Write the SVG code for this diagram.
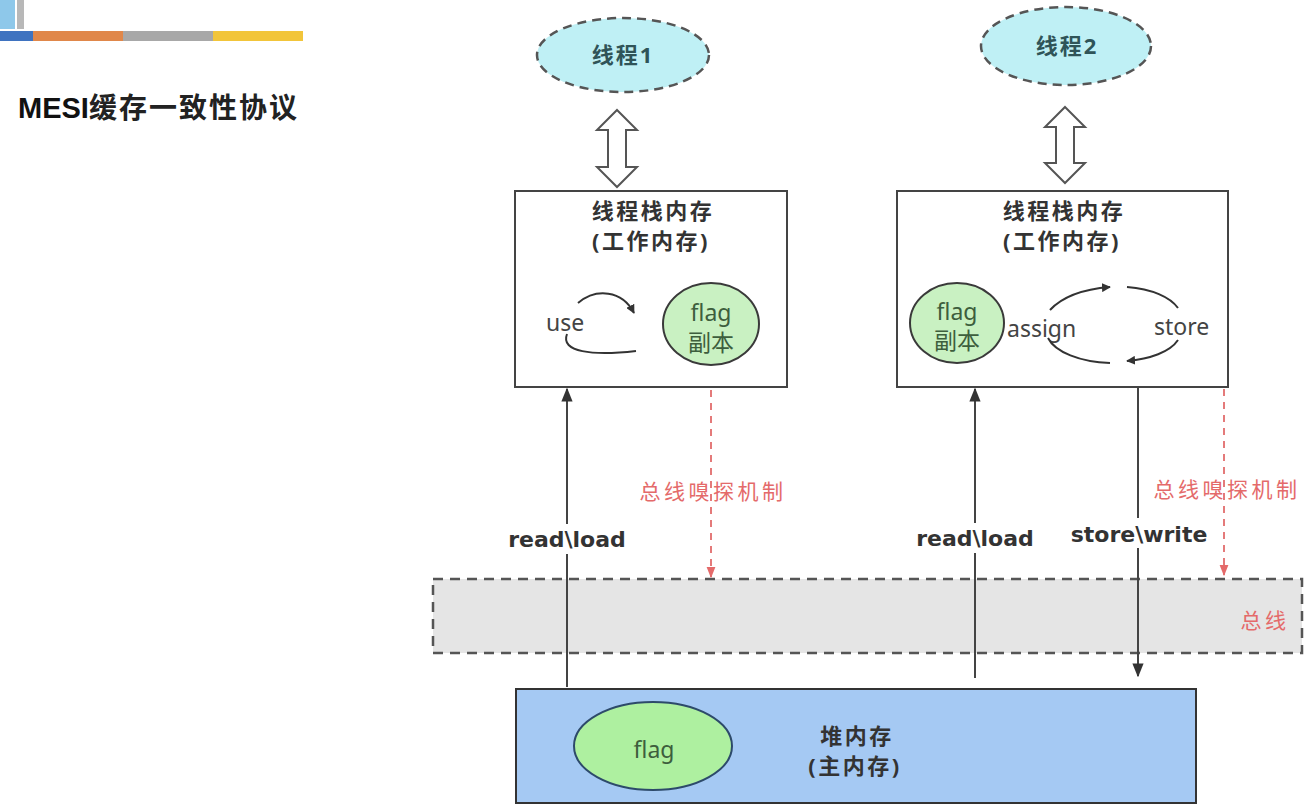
<svg xmlns="http://www.w3.org/2000/svg" width="1314" height="812" viewBox="0 0 1314 812">
<defs>
<style>
.cjk{font-family:"Noto Sans","Noto Sans CJK SC",sans-serif}
.hd{font-family:"Noto Sans","Noto Sans CJK SC",sans-serif;font-weight:bold;font-size:22px;letter-spacing:2.5px;fill:#333;text-anchor:middle}
.lbl{font-family:"DejaVu Sans","Noto Sans CJK SC",sans-serif;font-weight:bold;font-size:22px;fill:#333;text-anchor:middle}
.op{font-family:"Noto Sans","Noto Sans CJK SC",sans-serif;font-size:23px;fill:#444}
.flag{font-family:"Noto Sans","Noto Sans CJK SC",sans-serif;font-size:23px;fill:#3d5e3d;text-anchor:middle}
.red{font-family:"Noto Sans","Noto Sans CJK SC",sans-serif;font-size:21px;letter-spacing:3.5px;fill:#e46a6a;text-anchor:middle}
.box{fill:#fff;stroke:#444;stroke-width:2}
.thread{fill:#bff0f5;stroke:#555;stroke-width:2.5;stroke-dasharray:9 6}
.copy{fill:#c9f1c2;stroke:#3a3a3a;stroke-width:2}
.dbl{fill:#fff;stroke:#555;stroke-width:2}
.conn{stroke:#444;stroke-width:2;fill:none}
.snoop{stroke:#e47a7a;stroke-width:2;stroke-dasharray:7 6;fill:none}
.cyc{stroke:#333;stroke-width:2;fill:none}
</style>
<marker id="ah" viewBox="0 0 10 10" refX="9" refY="5" markerWidth="9" markerHeight="9" markerUnits="userSpaceOnUse" orient="auto">
<path d="M0,0 L10,5 L0,10 Z" fill="#333"/>
</marker>
<marker id="ahBig" viewBox="0 0 10 10" refX="9" refY="5" markerWidth="14" markerHeight="14" markerUnits="userSpaceOnUse" orient="auto">
<path d="M0,1 L10,5 L0,9 Z" fill="#333"/>
</marker>
<marker id="ahRed" viewBox="0 0 10 10" refX="9" refY="5" markerWidth="11" markerHeight="11" markerUnits="userSpaceOnUse" orient="auto">
<path d="M0,1 L10,5 L0,9 Z" fill="#e46a6a"/>
</marker>
</defs>
<rect width="1314" height="812" fill="#fff"/>

<g id="header">
<rect x="0" y="0" width="15" height="29" fill="#8ec8ea"/>
<rect x="17" y="0" width="7" height="29" fill="#b8b8b8"/>
<rect x="0" y="31" width="33" height="10" fill="#3f73c0"/>
<rect x="33" y="31" width="90" height="10" fill="#e0874a"/>
<rect x="123" y="31" width="90" height="10" fill="#a8a8a8"/>
<rect x="213" y="31" width="90" height="10" fill="#f2c53a"/>
<text x="18" y="118" font-family="'Liberation Sans','Noto Sans CJK SC',sans-serif" font-weight="bold" font-size="29" fill="#111">MESI<tspan font-family="'Noto Sans CJK SC',sans-serif" font-size="28" letter-spacing="2" fill="#222">缓存一致性协议</tspan></text>
</g>

<g id="bus">
<rect x="433" y="579" width="869" height="74" fill="#e5e5e5" stroke="#555" stroke-width="2.5" stroke-dasharray="10 7"/>
<text x="1265" y="628" class="red" font-size="22" letter-spacing="2">总线</text>
</g>

<g id="thread1">
<ellipse cx="623" cy="55" rx="86" ry="37" class="thread"/>
<text x="623" y="63" class="cjk" font-weight="bold" font-size="22" letter-spacing="2" fill="#2f5458" text-anchor="middle">线程1</text>
</g>
<g id="thread2">
<ellipse cx="1066" cy="46" rx="85" ry="39" class="thread"/>
<text x="1067" y="54" class="cjk" font-weight="bold" font-size="22" letter-spacing="2" fill="#2f5458" text-anchor="middle">线程2</text>
</g>

<g id="exchange1">
<path class="dbl" d="M617,110 L637,130 L626,130 L626,167 L637,167 L617,187 L597,167 L608,167 L608,130 L597,130 Z"/>
</g>
<g id="exchange2">
<path class="dbl" d="M1065,107 L1085,127 L1074,127 L1074,163 L1085,163 L1065,183 L1045,163 L1056,163 L1056,127 L1045,127 Z"/>
</g>

<g id="stack1">
<rect x="515" y="191" width="272" height="196" class="box"/>
<text x="653" y="219" class="hd">线程栈内存</text>
<text x="651" y="249" class="hd">(工作内存)</text>
<ellipse cx="711" cy="324" rx="48" ry="41" class="copy"/>
<text x="711" y="321" class="flag">flag</text>
<text x="711" y="351" class="flag">副本</text>
<text x="546" y="331" class="op">use</text>
<path class="cyc" d="M578,303 C596,288 622,290 634,313" marker-end="url(#ah)"/>
<path class="cyc" d="M567,334 C560,352 592,356 636,351"/>
</g>

<g id="stack2">
<rect x="897" y="191" width="331" height="196" class="box"/>
<text x="1064" y="219" class="hd">线程栈内存</text>
<text x="1062" y="249" class="hd">(工作内存)</text>
<ellipse cx="957" cy="323" rx="47" ry="40" class="copy"/>
<text x="957" y="320" class="flag">flag</text>
<text x="957" y="349" class="flag">副本</text>
<text x="1007" y="337" class="op" font-size="24">assign</text>
<text x="1154" y="335" class="op" font-size="24">store</text>
<path class="cyc" d="M1050,310 C1063,296 1085,289 1110,287" marker-end="url(#ah)"/>
<path class="cyc" d="M1127,287 C1152,289 1170,297 1178,308"/>
<path class="cyc" d="M1178,340 C1170,352 1150,359 1127,361" marker-end="url(#ah)"/>
<path class="cyc" d="M1110,363 C1080,362 1055,352 1048,338"/>
</g>

<g id="heap">
<rect x="516" y="689" width="680" height="114" fill="#a5c9f3" stroke="#333" stroke-width="2"/>
<ellipse cx="653" cy="746" rx="79" ry="44" fill="#aef0a0" stroke="#2d4a6a" stroke-width="2"/>
<text x="654" y="758" class="flag" font-size="25" fill="#2d4a2d">flag</text>
<text x="857" y="744" class="hd">堆内存</text>
<text x="855" y="774" class="hd">(主内存)</text>
</g>

<g id="connectors">
<line x1="567" y1="687" x2="567" y2="389" class="conn" marker-end="url(#ahBig)"/>
<line x1="975" y1="678" x2="975" y2="389" class="conn" marker-end="url(#ahBig)"/>
<line x1="1138" y1="387" x2="1138" y2="676" class="conn" marker-end="url(#ahBig)"/>
<line x1="711" y1="390" x2="711" y2="577" class="snoop" marker-end="url(#ahRed)"/>
<line x1="1224" y1="389" x2="1224" y2="575" class="snoop" marker-end="url(#ahRed)"/>
<rect x="503" y="524" width="128" height="30" fill="#fff"/>
<text x="567" y="547" class="lbl">read\load</text>
<rect x="911" y="523" width="128" height="30" fill="#fff"/>
<text x="975" y="546" class="lbl">read\load</text>
<rect x="1064" y="518" width="150" height="30" fill="#fff"/>
<text x="1139" y="542" class="lbl">store\write</text>
<text x="713" y="499" class="red">总线嗅探机制</text>
<text x="1227" y="497" class="red">总线嗅探机制</text>
</g>
</svg>
